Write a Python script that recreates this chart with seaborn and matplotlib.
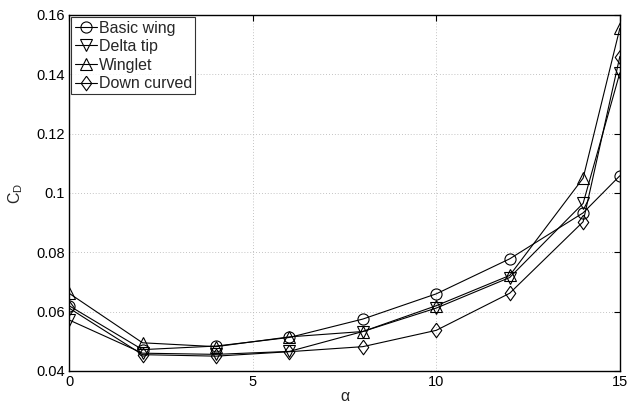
import matplotlib
matplotlib.use("Agg")
import matplotlib.pyplot as plt
import seaborn as sns
import pandas as pd

alpha = [0, 2, 4, 6, 8, 10, 12, 14, 15]
basic_wing = [0.0620, 0.0472, 0.0484, 0.0513, 0.0575, 0.0660, 0.0778, 0.0933, 0.1058]
delta_tip = [0.0572, 0.0460, 0.0456, 0.0466, 0.0533, 0.0612, 0.0715, 0.0965, 0.1405]
winglet = [0.0662, 0.0495, 0.0482, 0.0515, 0.0533, 0.0620, 0.0722, 0.1050, 0.1555]
down_curved = [0.0612, 0.0455, 0.0450, 0.0465, 0.0482, 0.0537, 0.0662, 0.0903, 0.1460]

names = ["Basic wing", "Delta tip", "Winglet", "Down curved"]
series = [basic_wing, delta_tip, winglet, down_curved]
diamond = [(0, 1), (0.72, 0), (0, -1), (-0.72, 0), (0, 1)]
markers = ["o", "v", "^", diamond]
sizes = [8, 8, 8, 10.5]

xticks = [0, 5, 10, 15]
yticks = [0.04, 0.06, 0.08, 0.1, 0.12, 0.14, 0.16]
yticklabels = ["0.04", "0.06", "0.08", "0.1", "0.12", "0.14", "0.16"]

sns.set_style("white")
plt.rcParams["font.family"] = ["Liberation Sans", "DejaVu Sans"]
plt.rcParams["mathtext.fontset"] = "custom"
plt.rcParams["mathtext.rm"] = "Liberation Sans"
plt.rcParams["mathtext.it"] = "Liberation Sans"

fig = plt.figure(figsize=(6.28, 4.05), dpi=100)
ax = fig.add_axes([0.110, 0.084, 0.877, 0.879])

for name, vals, m, s in zip(names, series, markers, sizes):
    df = pd.DataFrame({"alpha": alpha, "CD": vals})
    sns.lineplot(data=df, x="alpha", y="CD", ax=ax, color="black", lw=0.8,
                 marker=m, markersize=s, markerfacecolor="none",
                 markeredgecolor="black", markeredgewidth=0.8, label=name)

ax.set_xlim(0, 15)
ax.set_ylim(0.04, 0.16)
ax.set_xticks(xticks)
ax.set_xticklabels([str(t) for t in xticks])
ax.set_yticks(yticks)
ax.set_yticklabels(yticklabels)
ax.tick_params(direction="in", length=4, width=0.8, labelsize=10.5, colors="black",
               top=True, right=True, pad=3)
ax.grid(True, linestyle=(0, (1, 2.5)), color="#b0b0b0", lw=0.6)
for sp in ax.spines.values():
    sp.set_visible(True)
    sp.set_color("black")
    sp.set_linewidth(1.0)

ax.set_xlabel("α", fontsize=11.5, labelpad=0)
ax.set_ylabel("C$_\\mathrm{D}$", fontsize=11.5, labelpad=8)

leg = ax.legend(loc="upper left", frameon=True, fontsize=11.5, handlelength=1.4,
                handletextpad=0.1, borderpad=0.2, labelspacing=0.22,
                borderaxespad=0.15, fancybox=False)
leg.get_frame().set_edgecolor("black")
leg.get_frame().set_linewidth(0.8)

fig.savefig("out.png", dpi=100)
